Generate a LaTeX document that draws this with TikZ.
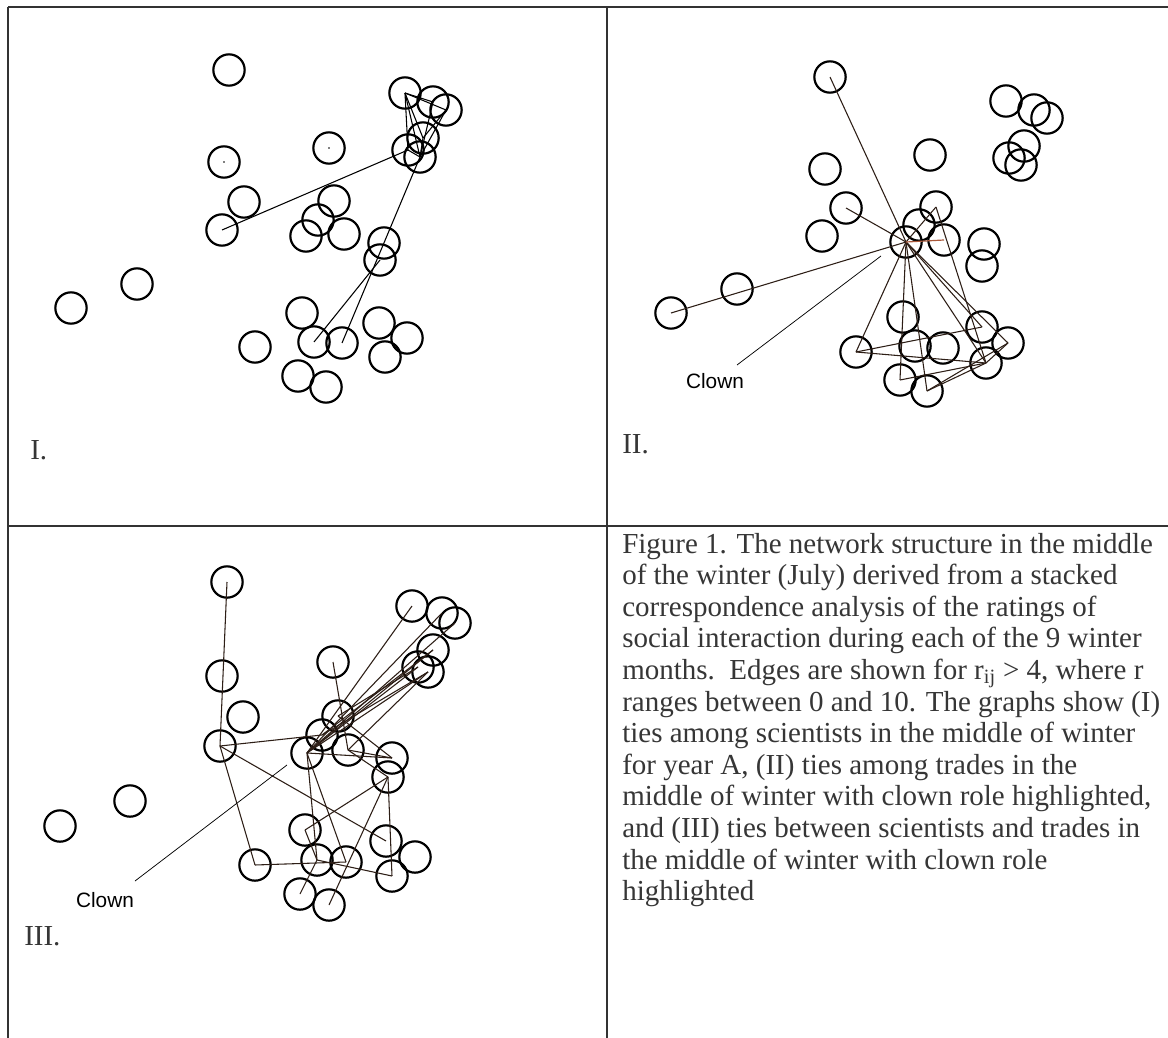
\documentclass[tikz,border=0pt]{standalone}
\usepackage{fontspec}
\setmainfont{Liberation Serif}
\newfontfamily\arialf{Liberation Sans}
\definecolor{framec}{HTML}{333333}
\definecolor{textc}{HTML}{363636}
\definecolor{edgeb}{RGB}{45,30,22}
\definecolor{edger}{RGB}{170,90,60}
\tikzset{
  nd/.style={circle,draw=black,line width=1.65pt,minimum size=23.5pt,inner sep=0pt,outer sep=0pt},
  edgeI/.style={draw=black,line width=0.8pt},
  edgeII/.style={draw=edgeb,line width=0.8pt},
  edgered/.style={draw=edger,line width=0.9pt},
  lead/.style={draw=black,line width=0.55pt},
  frameline/.style={draw=framec,line width=1.5pt},
  captext/.style={anchor=base west,inner sep=0pt,text=textc,font=\fontsize{21.75pt}{23.7pt}\selectfont},
  clownlab/.style={inner sep=0pt,font=\arialf\fontsize{15.6pt}{18pt}\selectfont},
}
\begin{document}
\begin{tikzpicture}[x=0.75pt,y=-0.75pt]
\useasboundingbox (0,0) rectangle (1168,1038);
\fill[white] (0,0) rectangle (1168,1038);

% frame
\coordinate (ftl) at (8,7);
\coordinate (ftr) at (1168,7);
\coordinate (fbl) at (8,1038);
\coordinate (fmt) at (607,7);
\coordinate (fmb) at (607,1038);
\coordinate (fhl) at (8,526);
\coordinate (fhr) at (1168,526);
\draw[frameline] (ftl) -- (ftr);
\draw[frameline] (ftl) -- (fbl);
\draw[frameline] (fmt) -- (fmb);
\draw[frameline] (fhl) -- (fhr);

% ---------- Panel I ----------
\foreach \n/\x/\y in {1/229/70,2/405/93,3/329/148,4/224/162,5/244/202,6/222/230,7/334/201,8/318/220,9/306/236,10/344/234,11/384/243,12/380/260,13/137/284,14/71/308,15/302/313,16/255/347,17/314/342,18/342/343,19/379/323,20/407/338,21/385/357,22/298/376,23/326/387,24/433/102,25/446/110,26/423/138,27/408/150,28/420/157}
  \node[nd] (a\n) at (\x,\y) {};
\fill (a3.center) circle (0.8);
\fill (a4.center) circle (0.8);
\foreach \u/\v in {6/27,28/18,17/12,2/24,2/25,2/26,2/28,25/26,25/28,24/28,26/28,27/28,2/27}
  \draw[edgeI] (a\u.center) -- (a\v.center);

% ---------- Panel II ----------
\foreach \n/\x/\y in {1/830/77,2/1006/101,3/930/155,4/825/169,5/846/208,6/822/236,7/936/207,8/919/225,9/906/242,10/944/240,11/984/244,12/982/266,13/737/289,14/671/313,15/903/317,16/856/352,17/915/346,18/943/348,19/982/327,20/1008/343,21/986/363,22/900/380,23/927/391,24/1034/110,25/1047/118,26/1024/146,27/1009/158,28/1021/165}
  \node[nd] (b\n) at (\x,\y) {};
\foreach \u/\v in {9/1,9/5,9/14,9/7,9/16,9/22,9/23,9/19,9/21,9/20,7/21,16/19,16/21,22/21,23/21,20/21,23/20}
  \draw[edgeII] (b\u.center) -- (b\v.center);
\draw[edgered] (b9.center) -- (b10.center);

% ---------- Panel III ----------
\foreach \n/\x/\y in {1/227/582,2/412/606,3/333/662,4/222/676,5/243/717,6/220/746,7/338/716,8/322/735,9/307/753,10/348/750,11/392/758,12/388/777,13/130/801,14/60/826,15/305/830,16/255/865,17/317/860,18/346/862,19/386/841,20/415/857,21/392/876,22/300/894,23/329/905,24/442/613,25/455/623,26/433/650,27/418/667,28/428/672}
  \node[nd] (c\n) at (\x,\y) {};
\foreach \u/\v in {1/6,6/8,6/16,6/19,16/18,17/21,3/10,9/2,9/24,9/25,9/26,9/27,9/28,8/26,8/28,7/27,10/28,9/11,9/17,9/18,15/12,15/17,12/21,12/23,10/11,22/17,7/11,10/12}
  \draw[edgeII] (c\u.center) -- (c\v.center);

% ---------- Clown labels ----------
\node[clownlab] (clown2) at (715,381) {Clown};
\coordinate (l2s) at (737,365);
\coordinate (l2e) at (881,256);
\draw[lead] (l2s) -- (l2e);
\node[clownlab] (clown3) at (105,900) {Clown};
\coordinate (l3s) at (135,881);
\coordinate (l3e) at (287,765);
\draw[lead] (l3s) -- (l3e);

% ---------- Panel numerals ----------
\node[captext] (numI) at (30,459) {I.};
\node[captext] (numII) at (622,453) {II.};
\node[captext] (numIII) at (24,945) {III.};

% ---------- Caption ----------
\node[captext] (cap1) at (622,553.0) {Figure 1. The network structure in the middle};
\node[captext] (cap2) at (622,584.6) {of the winter (July) derived from a stacked};
\node[captext] (cap3) at (622,616.2) {correspondence analysis of the ratings of};
\node[captext] (cap4) at (622,647.8) {social interaction during each of the 9 winter};
\node[captext] (cap5) at (622,679.4) {months.\hspace{0.5em}Edges are shown for r\textsubscript{ij} > 4, where r};
\node[captext] (cap6) at (622,711.0) {ranges between 0 and 10. The graphs show (I)};
\node[captext] (cap7) at (622,742.6) {ties among scientists in the middle of winter};
\node[captext] (cap8) at (622,774.2) {for year A, (II) ties among trades in the};
\node[captext] (cap9) at (622,805.8) {middle of winter with clown role highlighted,};
\node[captext] (cap10) at (622,837.4) {and (III) ties between scientists and trades in};
\node[captext] (cap11) at (622,869.0) {the middle of winter with clown role};
\node[captext] (cap12) at (622,900.6) {highlighted};
\end{tikzpicture}
\end{document}
